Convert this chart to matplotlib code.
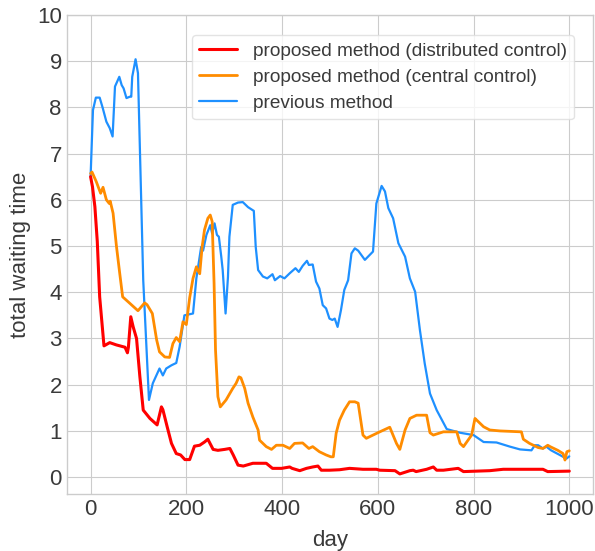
import matplotlib
matplotlib.use("Agg")
import matplotlib.pyplot as plt

# distributed control (red)
red_day = [0, 4, 9, 14, 19, 28, 40, 54, 72, 77, 79, 84, 89, 96, 103, 110, 124, 139,
           148, 151, 160, 169, 179, 188, 197, 207, 217, 228, 238, 245, 256, 266, 280,
           291, 298, 308, 319, 339, 367, 380, 399, 416, 421, 437, 451, 464, 475, 482,
           499, 520, 541, 569, 597, 604, 636, 646, 667, 674, 680, 702, 716, 723, 737,
           768, 779, 834, 862, 945, 955, 1000]
red_val = [6.5, 6.28, 5.85, 5.1, 3.9, 2.84, 2.91, 2.86, 2.81, 2.69, 2.81, 3.47, 3.25,
           3.0, 2.17, 1.45, 1.27, 1.13, 1.52, 1.46, 1.09, 0.73, 0.51, 0.48, 0.38, 0.38,
           0.67, 0.69, 0.76, 0.82, 0.6, 0.58, 0.6, 0.62, 0.48, 0.26, 0.24, 0.3, 0.3,
           0.19, 0.19, 0.22, 0.19, 0.14, 0.19, 0.22, 0.24, 0.15, 0.15, 0.16, 0.19, 0.17,
           0.17, 0.15, 0.14, 0.07, 0.14, 0.15, 0.12, 0.17, 0.22, 0.15, 0.15, 0.19, 0.12,
           0.14, 0.17, 0.17, 0.12, 0.13]

# central control (orange)
orange_day = [0, 3, 12, 21, 26, 33, 39, 41, 47, 54, 61, 67, 82, 99, 113, 118, 129,
              138, 144, 155, 165, 172, 179, 186, 193, 200, 207, 214, 221, 223, 228,
              233, 238, 245, 250, 254, 258, 261, 266, 271, 283, 297, 304, 310, 314,
              322, 329, 339, 350, 353, 367, 378, 388, 402, 416, 426, 443, 456, 464,
              478, 492, 502, 507, 513, 520, 530, 541, 552, 559, 569, 576, 600, 625,
              639, 646, 657, 667, 681, 702, 709, 716, 737, 765, 772, 779, 796, 803,
              807, 821, 834, 855, 900, 904, 917, 935, 945, 955, 960, 976, 987, 991,
              995, 1000]
orange_val = [6.57, 6.6, 6.39, 6.14, 6.27, 6.0, 5.92, 5.97, 5.71, 5.0, 4.4, 3.9, 3.76,
              3.6, 3.77, 3.73, 3.54, 2.97, 2.71, 2.6, 2.59, 2.89, 3.02, 2.93, 3.36,
              3.3, 3.88, 4.3, 4.55, 4.5, 4.4, 4.98, 5.35, 5.6, 5.67, 5.53, 4.19, 2.75,
              1.74, 1.52, 1.67, 1.92, 2.03, 2.17, 2.15, 1.92, 1.6, 1.3, 1.02, 0.8, 0.66,
              0.6, 0.69, 0.69, 0.62, 0.73, 0.74, 0.62, 0.66, 0.55, 0.48, 0.44, 0.44,
              0.95, 1.23, 1.45, 1.63, 1.63, 1.6, 0.91, 0.84, 0.96, 1.08, 0.73, 0.6,
              1.02, 1.27, 1.34, 1.34, 0.96, 0.91, 0.98, 0.98, 0.73, 0.66, 0.91, 1.27,
              1.23, 1.09, 1.02, 1.0, 0.98, 0.82, 0.73, 0.64, 0.62, 0.69, 0.66, 0.58,
              0.51, 0.37, 0.55, 0.57]

# previous method (blue)
blue_day = [0, 5, 11, 19, 25, 33, 40, 46, 51, 60, 65, 69, 75, 82, 85, 87, 94, 99,
            110, 122, 130, 144, 151, 158, 169, 179, 186, 196, 214, 221, 231, 235, 242,
            250, 254, 259, 264, 268, 273, 276, 282, 287, 290, 297, 308, 318, 329, 341,
            345, 350, 360, 369, 380, 385, 396, 405, 416, 428, 435, 443, 452, 456, 464,
            471, 478, 485, 492, 499, 505, 510, 516, 523, 530, 538, 545, 552, 559, 573,
            590, 597, 608, 615, 622, 632, 643, 657, 667, 678, 688, 698, 709, 723, 744,
            772, 800, 821, 848, 876, 897, 921, 928, 935, 945, 952, 962, 980, 994, 1000]
blue_val = [6.5, 7.94, 8.21, 8.21, 8.0, 7.69, 7.55, 7.37, 8.45, 8.66, 8.48, 8.41, 8.2,
            8.23, 8.23, 8.66, 9.04, 8.74, 4.26, 1.67, 2.03, 2.35, 2.2, 2.35, 2.42, 2.47,
            2.82, 3.5, 3.54, 4.3, 4.98, 4.9, 5.24, 5.45, 5.27, 5.49, 5.24, 5.2, 4.77,
            4.48, 3.54, 4.33, 5.2, 5.89, 5.94, 5.95, 5.84, 5.76, 4.98, 4.48, 4.34, 4.3,
            4.39, 4.26, 4.35, 4.3, 4.41, 4.52, 4.44, 4.57, 4.68, 4.59, 4.6, 4.23, 4.08,
            3.72, 3.65, 3.43, 3.4, 3.43, 3.25, 3.61, 4.05, 4.26, 4.84, 4.95, 4.9, 4.7,
            4.88, 5.92, 6.3, 6.18, 5.82, 5.6, 5.06, 4.77, 4.3, 4.01, 3.18, 2.46, 1.81,
            1.45, 1.04, 0.96, 0.91, 0.76, 0.75, 0.66, 0.6, 0.58, 0.69, 0.69, 0.62, 0.66,
            0.58, 0.48, 0.4, 0.45]

plt.style.use("seaborn-v0_8-whitegrid")
plt.rcParams["font.family"] = ["Liberation Sans", "DejaVu Sans"]

fig = plt.figure(figsize=(5.95, 5.51), dpi=100)
ax = fig.add_axes([0.112, 0.103, 0.885, 0.870])

ax.plot(blue_day, blue_val, color="dodgerblue", lw=1.6, label="previous method", zorder=2)
ax.plot(orange_day, orange_val, color="darkorange", lw=2.0,
        label="proposed method (central control)", zorder=3)
ax.plot(red_day, red_val, color="red", lw=2.2,
        label="proposed method (distributed control)", zorder=4)

ax.set_xlim(-50, 1050)
ax.set_ylim(-0.37, 10)
ax.set_yticks(range(0, 11))
ax.set_xticks([0, 200, 400, 600, 800, 1000])
ax.tick_params(labelsize=16, colors="#3a3a3a")
ax.set_xlabel("day", fontsize=16, color="#3a3a3a", labelpad=7)
ax.set_ylabel("total waiting time", fontsize=16, color="#3a3a3a", labelpad=4)
for s in ax.spines.values():
    s.set_visible(True)
    s.set_color("#cccccc")

h, l = ax.get_legend_handles_labels()
leg = ax.legend(h[::-1], l[::-1], loc="upper right", bbox_to_anchor=(0.964, 0.958),
                borderaxespad=0, fontsize=13.7, frameon=True, framealpha=0.8,
                edgecolor="#dddddd", labelspacing=0.45)
for t in leg.get_texts():
    t.set_color("#3a3a3a")

fig.savefig("out.png", dpi=100)
